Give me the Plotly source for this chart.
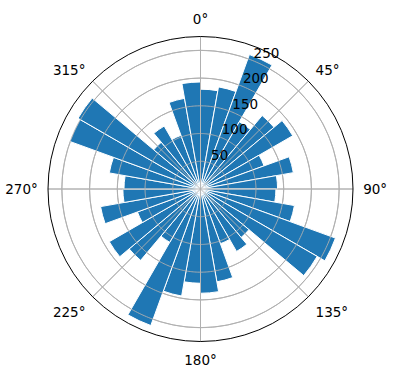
import numpy as np
import plotly.graph_objects as go

# Direction bins (compass degrees, bin centres) and counts
directions = [5, 15, 25, 35, 45, 55, 65, 75, 85, 95, 105, 115, 125, 135, 145, 155, 165, 175,
              185, 195, 205, 215, 225, 235, 245, 255, 265, 275, 285, 295, 305, 315, 325, 335, 345, 355]
counts = [180, 187, 258, 140, 173, 192, 122, 170, 139, 136, 172, 259, 243, 114, 130, 105, 170, 188,
          170, 196, 262, 111, 168, 190, 121, 183, 140, 138, 167, 251, 255, 110, 131, 103, 166, 193]
bin_width = 10

angle_ticks = [0, 45, 90, 135, 180, 225, 270, 315]
angle_labels = [f"{a}°" for a in angle_ticks]
radial_ticks = [50, 100, 150, 200, 250]
radial_labels = [str(v) for v in radial_ticks]
radial_label_angle = 22.5
r_max = 275

GRID = "#b0b0b0"
fig = go.Figure()
fig.add_trace(go.Barpolar(
    r=counts, theta=directions, width=[bin_width] * len(directions),
    marker=dict(color="#1f77b4", line=dict(color="white", width=1)),
    hoverinfo="skip", showlegend=False,
))

# gridlines drawn above bars (as in matplotlib)
ring_theta = np.linspace(0, 360, 361)
for rv in radial_ticks:
    fig.add_trace(go.Scatterpolar(r=[rv] * len(ring_theta), theta=ring_theta, mode="lines",
                                  line=dict(color=GRID, width=0.9), hoverinfo="skip", showlegend=False))
for a in angle_ticks:
    fig.add_trace(go.Scatterpolar(r=[0, r_max], theta=[a, a], mode="lines",
                                  line=dict(color=GRID, width=0.9), hoverinfo="skip", showlegend=False))

# radial tick labels, horizontal, at 22.5 degrees
fig.add_trace(go.Scatterpolar(r=radial_ticks, theta=[radial_label_angle] * len(radial_ticks),
                              mode="text", text=radial_labels, textposition="top right",
                              textfont=dict(family="DejaVu Sans", size=13.5, color="black"),
                              hoverinfo="skip", showlegend=False, cliponaxis=False))

fig.update_layout(
    width=396, height=380,
    margin=dict(l=48, r=43, t=36, b=38),
    paper_bgcolor="white",
    font=dict(family="DejaVu Sans", size=13.5, color="black"),
    polar=dict(
        bgcolor="white",
        angularaxis=dict(rotation=90, direction="clockwise", tickvals=angle_ticks, ticktext=angle_labels,
                         showgrid=True, gridcolor=GRID, gridwidth=0.9, showline=True, linecolor="black",
                         linewidth=1, ticks="outside", ticklen=7, tickcolor="rgba(0,0,0,0)",
                         tickfont=dict(size=13.5)),
        radialaxis=dict(range=[0, r_max], tickvals=radial_ticks, showticklabels=False,
                        showgrid=True, gridcolor=GRID, gridwidth=0.9, showline=False, ticks=""),
    ),
)
fig.write_html("out.html")
